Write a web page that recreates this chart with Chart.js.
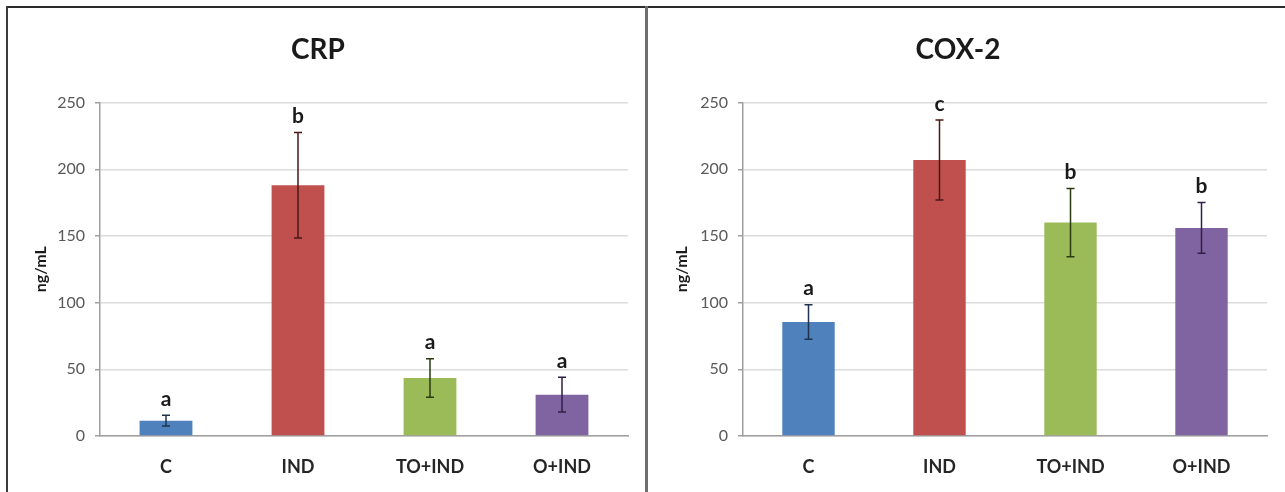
<!DOCTYPE html>
<html>
<head>
<meta charset="utf-8">
<script src="https://cdn.jsdelivr.net/npm/chart.js@4.4.1/dist/chart.umd.min.js"></script>
<style>
  html, body { margin: 0; padding: 0; background: #fff; }
  #page { position: relative; width: 1285px; height: 492px; overflow: hidden; background: #fff; }
  .frameTop { position: absolute; left: 6px; top: 6px; width: 1279px; height: 2px; background: #2b2b2b; }
  .frameLeft { position: absolute; left: 6px; top: 6px; width: 2px; height: 486px; background: #3a3a3a; }
  .divider { position: absolute; left: 645px; top: 6px; width: 3px; height: 486px; background: #6e6e6e; }
  .panel { position: absolute; top: 9px; height: 483px; }
  #crpBox { left: 8px; width: 637px; }
  #coxBox { left: 649px; width: 636px; }
</style>
</head>
<body>
<div id="page">
  <div class="frameTop"></div>
  <div class="frameLeft"></div>
  <div class="divider"></div>
  <div class="panel" id="crpBox"><canvas id="crpChart" width="637" height="483"></canvas></div>
  <div class="panel" id="coxBox"><canvas id="coxChart" width="636" height="483"></canvas></div>
</div>
<script>
const groups = ["C", "IND", "TO+IND", "O+IND"];
const barColors = ["#4F81BD", "#C0504D", "#9BBB59", "#8064A2"];
const errColors = ["#1f3350", "#4a1816", "#2c3a12", "#2e2145"];

const crpMeans = [11.5, 188, 43.5, 31];
const crpSD = [4, 39.5, 14.5, 13];
const crpLetters = ["a", "b", "a", "a"];

const coxMeans = [85.5, 207, 160, 156];
const coxSD = [13, 30, 25.5, 19];
const coxLetters = ["a", "c", "b", "b"];

const yTicks = [0, 50, 100, 150, 200, 250];

const FONT = "Lato";

// draws the error bars and the significance letters over each bar
const errorBarPlugin = {
  id: "errorBars",
  afterDatasetsDraw(chart, args, opts) {
    const ctx = chart.ctx;
    const y = chart.scales.y;
    const meta = chart.getDatasetMeta(0);
    ctx.save();
    meta.data.forEach((bar, i) => {
      const m = opts.means[i];
      const sd = opts.sd[i];
      const yTop = y.getPixelForValue(m + sd);
      const yBot = y.getPixelForValue(m - sd);
      ctx.strokeStyle = errColors[i];
      ctx.lineWidth = 1.5;
      ctx.beginPath();
      ctx.moveTo(bar.x, yTop);
      ctx.lineTo(bar.x, yBot);
      ctx.moveTo(bar.x - 4, yTop);
      ctx.lineTo(bar.x + 4, yTop);
      ctx.moveTo(bar.x - 4, yBot);
      ctx.lineTo(bar.x + 4, yBot);
      ctx.stroke();

      ctx.fillStyle = "#1a1a1a";
      ctx.font = `bold 21px ${FONT}`;
      ctx.textAlign = "center";
      ctx.textBaseline = "middle";
      ctx.fillText(opts.letters[i], bar.x, yTop - 16);
    });
    ctx.restore();
  }
};

function makeChart(canvasId, title, means, sd, letters, axisWidth, padRight) {
  return new Chart(document.getElementById(canvasId), {
    type: "bar",
    data: {
      labels: groups,
      datasets: [{
        data: means,
        backgroundColor: barColors,
        borderWidth: 0,
        categoryPercentage: 1,
        barPercentage: 0.4
      }]
    },
    options: {
      responsive: false,
      animation: false,
      layout: { padding: { left: 0, right: padRight, top: 0, bottom: 14 } },
      plugins: {
        legend: { display: false },
        tooltip: { enabled: false },
        title: {
          display: true,
          text: title,
          color: "#1a1a1a",
          font: { family: FONT, size: 28, weight: "bold" },
          padding: { top: 24, bottom: 36 }
        },
        errorBars: { means: means, sd: sd, letters: letters }
      },
      scales: {
        x: {
          afterFit: s => { s.height = 42; },
          grid: { display: false, drawTicks: false },
          border: { display: true, color: "#a0a0a0", width: 1.5 },
          ticks: {
            color: "#262626",
            padding: 20,
            font: { family: FONT, size: 18, weight: "bold" }
          }
        },
        y: {
          min: 0,
          max: 250,
          afterBuildTicks: s => { s.ticks = yTicks.map(v => ({ value: v })); },
          afterFit: s => { s.width = axisWidth; },
          grid: { color: "#dcdcdc", lineWidth: 1.5, tickColor: "#a0a0a0", tickLength: 5 },
          border: { display: true, color: "#a0a0a0", width: 1.5 },
          ticks: {
            color: "#595959",
            padding: 10,
            font: { family: FONT, size: 16 }
          },
          title: {
            display: true,
            text: "ng/mL",
            color: "#1a1a1a",
            font: { family: FONT, size: 16, weight: "bold" },
            padding: { top: 23, bottom: 0 }
          }
        }
      }
    },
    plugins: [errorBarPlugin]
  });
}

makeChart("crpChart", "CRP", crpMeans, crpSD, crpLetters, 92, 17);
makeChart("coxChart", "COX-2", coxMeans, coxSD, coxLetters, 94, 18);
</script>
</body>
</html>
